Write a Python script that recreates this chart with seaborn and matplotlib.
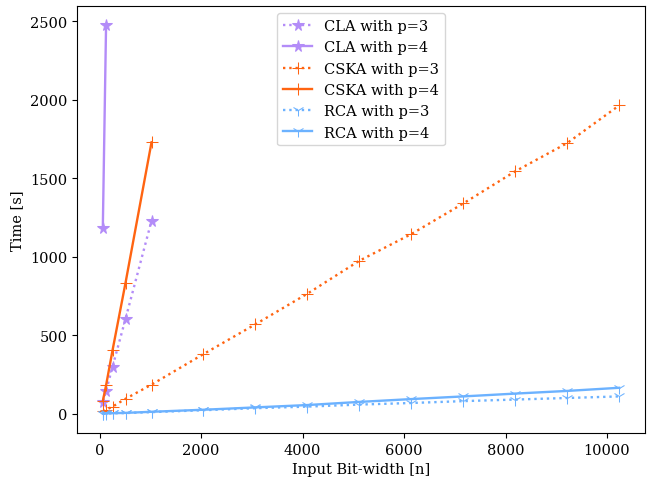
import pandas as pd
import matplotlib.pyplot as plt
import seaborn as sns

plt.rcParams['font.family'] = ['DejaVu Serif']
plt.rcParams['font.size'] = 10.5

# datos
bits_small = [64, 128, 256, 512, 1024]
bits_cla4 = [64, 128]
bits_big = [64, 128, 256, 512, 1024, 2048, 3072, 4096, 5120, 6144, 7168, 8192, 9216, 10240]

cla_p3 = [75, 145, 300, 605, 1230]
cla_p4 = [1185, 2475]
cska_p3 = [15, 25, 45, 95, 185, 380, 570, 765, 975, 1145, 1340, 1545, 1725, 1965]
cska_p4 = [80, 180, 405, 835, 1730]
rca_p3 = [0.5, 1, 2, 4, 10, 22, 35, 45, 58, 68, 80, 90, 100, 110]
rca_p4 = [1, 2, 3, 5, 12, 25, 40, 55, 75, 93, 110, 128, 145, 165]

series = [
    ('CLA with p=3', bits_small, cla_p3, '#b38cf8', ':', '*'),
    ('CLA with p=4', bits_cla4, cla_p4, '#b38cf8', '-', '*'),
    ('CSKA with p=3', bits_big, cska_p3, '#ff6411', ':', '+'),
    ('CSKA with p=4', bits_small, cska_p4, '#ff6411', '-', '+'),
    ('RCA with p=3', bits_big, rca_p3, '#6cb2ff', ':', '1'),
    ('RCA with p=4', bits_big, rca_p4, '#6cb2ff', '-', '1'),
]

fig, ax = plt.subplots(figsize=(6.47, 4.85), dpi=100)
for name, xs, ys, color, ls, mk in series:
    df = pd.DataFrame({'n': xs, 't': ys})
    sns.lineplot(data=df, x='n', y='t', ax=ax, color=color, linestyle=ls,
                 marker=mk, markersize=8.5, markeredgecolor=color, linewidth=1.7,
                 label=name)

ax.set_xlabel('Input Bit-width [n]')
ax.set_ylabel('Time [s]')
ax.legend(loc='upper center')
fig.subplots_adjust(left=77/647, right=645/647, top=1 - 7/485, bottom=1 - 434/485)
plt.savefig('out.png')
plt.close()
